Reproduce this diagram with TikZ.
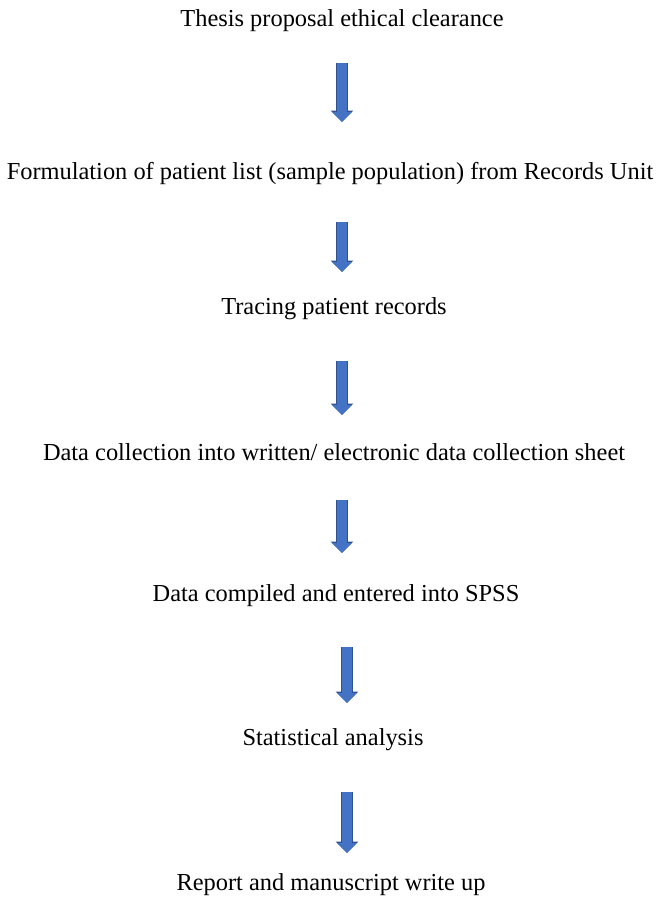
\documentclass[tikz,border=0pt]{standalone}
\usepackage{fontspec}
\setmainfont{Liberation Serif}
\usetikzlibrary{arrows.meta}
\definecolor{arrowblue}{HTML}{4472C4}
\definecolor{arrowedge}{HTML}{2F528F}
\begin{document}
\begin{tikzpicture}[x=1pt,y=1pt,
        stage/.style={inner sep=0pt, font=\fontsize{24.4}{28}\selectfont},
        flow/.style={line width=10pt, draw=arrowblue,
                -{Triangle[width=19pt,length=10pt]},
                preaction={draw=arrowedge, line width=12pt,
                -{Triangle[width=22pt,length=11.5pt]}}}]
                \useasboundingbox (0,0) rectangle (661,-900);
                \node[stage] (T) at (342,-21) {Thesis proposal ethical clearance};
                \node[stage] (F) at (330,-174) {Formulation of patient list (sample population) from Records Unit};
                \node[stage] (R) at (334,-309) {Tracing patient records};
                \node[stage] (C) at (334,-452) {Data collection into written/ electronic data collection sheet};
                \node[stage] (S) at (336,-596) {Data compiled and entered into SPSS};
                \node[stage] (A) at (333,-740) {Statistical analysis};
                \node[stage] (W) at (331,-885) {Report and manuscript write up};

                \coordinate (a1) at (342,-63);  \coordinate (b1) at (342,-122);
                \coordinate (a2) at (342,-222); \coordinate (b2) at (342,-272);
                \coordinate (a3) at (342,-361); \coordinate (b3) at (342,-415);
                \coordinate (a4) at (342,-500); \coordinate (b4) at (342,-553);
                \coordinate (a5) at (347,-647); \coordinate (b5) at (347,-703);
                \coordinate (a6) at (347,-792); \coordinate (b6) at (347,-853);

                \draw[flow] (a1) -- (b1);
                \draw[flow] (a2) -- (b2);
                \draw[flow] (a3) -- (b3);
                \draw[flow] (a4) -- (b4);
                \draw[flow] (a5) -- (b5);
                \draw[flow] (a6) -- (b6);
            \end{tikzpicture}
\end{document}
